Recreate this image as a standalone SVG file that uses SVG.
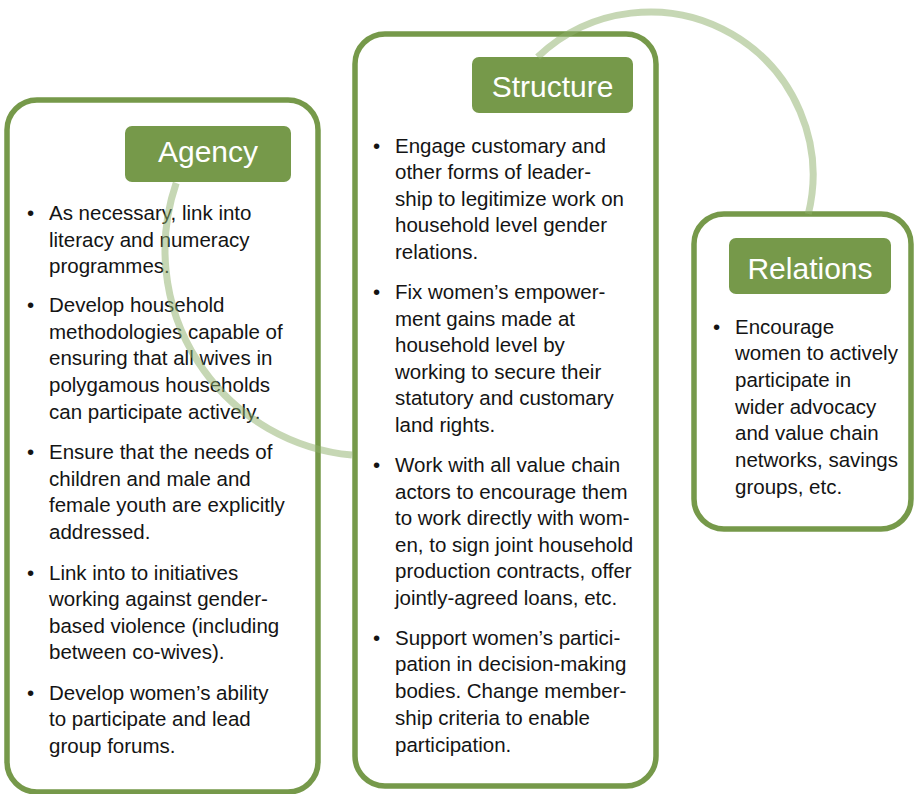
<svg xmlns="http://www.w3.org/2000/svg" width="914" height="794" viewBox="0 0 914 794">
<style>
.frame{fill:#ffffff;stroke:#76994a;stroke-width:5.5}
.title{fill:#76994a}
.tt{font-family:"Liberation Sans",Arial,sans-serif;font-size:30px;fill:#ffffff;text-anchor:middle}
.body{font-family:"Liberation Sans",Arial,sans-serif;font-size:20.5px;fill:#141414}
.arc{fill:none;stroke:#8db06a;stroke-opacity:0.5;stroke-width:7}
</style>
<rect width="914" height="794" fill="#ffffff"/>
<g id="agency">
<rect class="frame" x="7" y="100" width="311" height="692" rx="30"/>
<rect class="title" x="125" y="126" width="166" height="56" rx="7"/>
<text class="tt" x="208" y="162">Agency</text>
<g class="body">
<text x="27" y="220">•</text>
<text x="49" y="220">As necessary, link into</text>
<text x="49" y="246.5">literacy and numeracy</text>
<text x="49" y="273">programmes.</text>
<text x="27" y="312">•</text>
<text x="49" y="312">Develop household</text>
<text x="49" y="339">methodologies capable of</text>
<text x="49" y="365">ensuring that all wives in</text>
<text x="49" y="392">polygamous households</text>
<text x="49" y="418.5">can participate actively.</text>
<text x="27" y="459">•</text>
<text x="49" y="459">Ensure that the needs of</text>
<text x="49" y="486">children and male and</text>
<text x="49" y="512">female youth are explicitly</text>
<text x="49" y="539">addressed.</text>
<text x="27" y="580">•</text>
<text x="49" y="580">Link into to initiatives</text>
<text x="49" y="606">working against gender-</text>
<text x="49" y="633">based violence (including</text>
<text x="49" y="659">between co-wives).</text>
<text x="27" y="700">•</text>
<text x="49" y="700">Develop women’s ability</text>
<text x="49" y="726">to participate and lead</text>
<text x="49" y="753">group forums.</text>
</g>
</g>
<g id="structure">
<rect class="frame" x="355" y="34" width="301" height="752" rx="30"/>
<rect class="title" x="472" y="57" width="161" height="56" rx="7"/>
<text class="tt" x="552.5" y="97">Structure</text>
<g class="body">
<text x="373" y="153">•</text>
<text x="395" y="153">Engage customary and</text>
<text x="395" y="179">other forms of leader-</text>
<text x="395" y="206">ship to legitimize work on</text>
<text x="395" y="232">household level gender</text>
<text x="395" y="259">relations.</text>
<text x="373" y="299">•</text>
<text x="395" y="299">Fix women’s empower-</text>
<text x="395" y="326">ment gains made at</text>
<text x="395" y="352">household level by</text>
<text x="395" y="379">working to secure their</text>
<text x="395" y="405">statutory and customary</text>
<text x="395" y="432">land rights.</text>
<text x="373" y="472">•</text>
<text x="395" y="472">Work with all value chain</text>
<text x="395" y="499">actors to encourage them</text>
<text x="395" y="525">to work directly with wom-</text>
<text x="395" y="552">en, to sign joint household</text>
<text x="395" y="578">production contracts, offer</text>
<text x="395" y="605">jointly-agreed loans, etc.</text>
<text x="373" y="645">•</text>
<text x="395" y="645">Support women’s partici-</text>
<text x="395" y="671">pation in decision-making</text>
<text x="395" y="698">bodies. Change member-</text>
<text x="395" y="725">ship criteria to enable</text>
<text x="395" y="752">participation.</text>
</g>
</g>
<g id="relations">
<rect class="frame" x="694" y="214" width="217" height="315" rx="30"/>
<rect class="title" x="729" y="238" width="162" height="56" rx="7"/>
<text class="tt" x="810" y="279">Relations</text>
<g class="body">
<text x="713" y="334">•</text>
<text x="735" y="334">Encourage</text>
<text x="735" y="360">women to actively</text>
<text x="735" y="387">participate in</text>
<text x="735" y="414">wider advocacy</text>
<text x="735" y="440">and value chain</text>
<text x="735" y="467">networks, savings</text>
<text x="735" y="494">groups, etc.</text>
</g>
</g>
<g id="connectors">
<path class="arc" d="M176.2,183 A206,206 0 0 0 352,455.1"/>
<path class="arc" d="M537.6,57 A163,163 0 0 1 808.3,214"/>
</g>
</svg>
